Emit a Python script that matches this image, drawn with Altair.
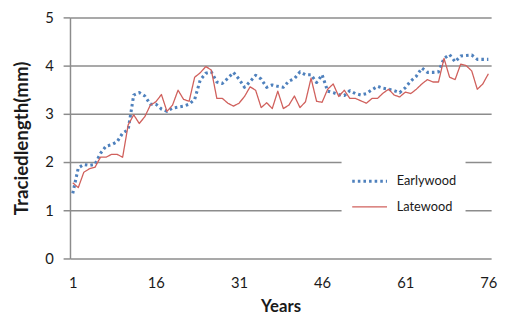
import altair as alt
import pandas as pd

years = list(range(1, 77))

earlywood = [1.35, 1.88, 1.95, 1.93, 1.95, 2.18, 2.33, 2.36, 2.42, 2.60,
             2.67, 3.39, 3.44, 3.37, 3.20, 3.20, 3.10, 3.05, 3.12, 3.14,
             3.16, 3.20, 3.30, 3.70, 3.84, 3.87, 3.66, 3.63, 3.74, 3.86,
             3.72, 3.55, 3.67, 3.80, 3.72, 3.55, 3.60, 3.57, 3.55, 3.68,
             3.73, 3.87, 3.81, 3.81, 3.65, 3.81, 3.47, 3.44, 3.40, 3.38,
             3.48, 3.42, 3.39, 3.42, 3.50, 3.57, 3.53, 3.51, 3.48, 3.44,
             3.54, 3.68, 3.78, 3.95, 3.86, 3.86, 3.87, 4.15, 4.23, 4.08,
             4.20, 4.21, 4.22, 4.13, 4.13, 4.13]

latewood = [1.57, 1.47, 1.79, 1.86, 1.89, 2.10, 2.10, 2.16, 2.16, 2.10,
            2.77, 2.98, 2.80, 2.94, 3.18, 3.25, 3.40, 3.05, 3.18, 3.49,
            3.30, 3.26, 3.76, 3.85, 3.98, 3.91, 3.32, 3.32, 3.22, 3.16,
            3.22, 3.36, 3.56, 3.49, 3.13, 3.23, 3.11, 3.47, 3.11, 3.18,
            3.37, 3.13, 3.25, 3.74, 3.26, 3.24, 3.51, 3.62, 3.36, 3.49,
            3.32, 3.32, 3.27, 3.22, 3.32, 3.32, 3.43, 3.51, 3.39, 3.35,
            3.45, 3.42, 3.51, 3.62, 3.71, 3.66, 3.66, 4.15, 3.76, 3.71,
            4.03, 4.00, 3.89, 3.51, 3.62, 3.83]

series_names = ["Earlywood", "Latewood"]
series_colors = ["#4F81BD", "#D0605C"]

df = pd.DataFrame({
    "Year": years + years,
    "Length": earlywood + latewood,
    "Series": [series_names[0]] * len(years) + [series_names[1]] * len(years),
})

font = "Lato"

chart = alt.Chart(df).mark_line(strokeCap="butt", strokeJoin="round").encode(
    x=alt.X("Year:Q",
            scale=alt.Scale(domain=[0.5, 76.5], nice=False, zero=False),
            axis=alt.Axis(values=[1, 16, 31, 46, 61, 76], title="Years", grid=False,
                          ticks=False, domain=False, labelFontSize=15, labelPadding=17,
                          labelColor="#1a1a1a", labelFont=font,
                          titleFont=font, titleFontSize=17, titleFontWeight="bold",
                          titleColor="#1a1a1a", titlePadding=9)),
    y=alt.Y("Length:Q",
            scale=alt.Scale(domain=[0, 5], nice=False),
            axis=alt.Axis(values=[0, 1, 2, 3, 4, 5], title="Traciedlength(mm)", grid=True,
                          gridColor="#8c8c8c", gridWidth=1.5, domainColor="#8c8c8c",
                          domainWidth=1.5, tickColor="#8c8c8c", tickWidth=1.5, tickSize=7,
                          labelFontSize=15, labelPadding=10, labelColor="#1a1a1a",
                          labelFont=font, titleFont=font, titleFontSize=19,
                          titleFontWeight="bold", titleColor="#1a1a1a", titlePadding=13)),
    color=alt.Color("Series:N",
                    scale=alt.Scale(domain=series_names, range=series_colors),
                    legend=alt.Legend(title=None, orient="none", legendX=276, legendY=138,
                                      fillColor="white", padding=9, labelFont=font,
                                      labelFontSize=13, labelColor="#1a1a1a",
                                      symbolType="stroke", symbolSize=1250,
                                      labelOffset=8, rowPadding=0)),
    strokeDash=alt.StrokeDash("Series:N",
                              scale=alt.Scale(domain=series_names, range=[[2.6, 3.1], [1, 0]]),
                              legend=alt.Legend(title=None)),
    strokeWidth=alt.StrokeWidth("Series:N",
                                scale=alt.Scale(domain=series_names, range=[3.1, 1.3]),
                                legend=alt.Legend(title=None)),
).properties(
    width=428, height=245, autosize="none",
    padding={"left": 63, "top": 7, "right": 8, "bottom": 62},
).configure_view(stroke=None)

chart.save("out.html", embed_options={"renderer": "svg", "actions": False})
